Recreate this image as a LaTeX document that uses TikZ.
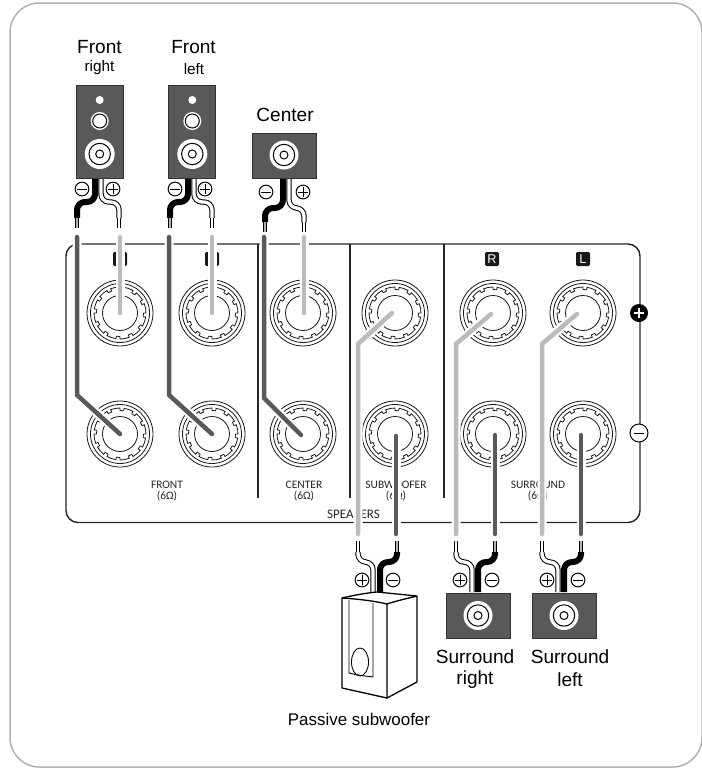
\documentclass[tikz,border=0pt]{standalone}
\usepackage{fontspec}
\setmainfont{Liberation Sans}
\newfontfamily\panelfont{Carlito}
\usetikzlibrary{calc}
\definecolor{spkgray}{HTML}{58595B}
\definecolor{lightwire}{HTML}{B9BBBE}
\definecolor{darkwire}{HTML}{58595B}
\tikzset{
  px/.style={line width=#1*0.75pt},
  label/.style={inner sep=0pt, font=\fontsize{14.3}{16}\selectfont},
  smalllabel/.style={inner sep=0pt, font=\fontsize{11.5}{13}\selectfont},
  paneltext/.style={inner sep=0pt, align=center, text=black!85, font=\panelfont\fontsize{8.6}{8.2}\selectfont},
  badge/.style={fill=black!90, text=white, rounded corners=1pt, minimum size=10.5pt, inner sep=0pt, font=\fontsize{9.5}{10}\selectfont},
  halo/.style={white, px=9, line cap=round, line join=miter},
  wire/.style={px=4.5, line cap=round, line join=miter},
  plussign/.style={circle, draw, px=1, minimum size=10.3pt, inner sep=0pt, fill=white, path picture={
    \draw[px=1] (path picture bounding box.center) ++(-3.8pt,0) -- ++(7.6pt,0);
    \draw[px=1] (path picture bounding box.center) ++(0,-3.8pt) -- ++(0,7.6pt);}},
  minussign/.style={circle, draw, px=1, minimum size=10.3pt, inner sep=0pt, fill=white, path picture={
    \draw[px=1] (path picture bounding box.center) ++(-3.8pt,0) -- ++(7.6pt,0);}},
}
\begin{document}
\begin{tikzpicture}[x=0.75pt, y=-0.75pt]
  \useasboundingbox (0,0) rectangle (701,768);
  % Outer frame
  \draw[black!30, px=1.5, rounded corners=22pt] (10,3) rectangle (702,767);
  % Amplifier panel
  \draw[black!85, px=1.4, rounded corners=9pt] (66,244) rectangle (640,522.5);
  \foreach \x in {258,350,444}
    \draw[black!85, px=1.2] (\x,244) -- (\x,498);
  % Panel labels
  \node[paneltext] (front) at (167,491.5) {FRONT\\(6Ω)};
  \node[paneltext] (center) at (304,491.5) {CENTER\\(6Ω)};
  \node[paneltext] (sub) at (396,491.5) {SUBWOOFER\\(6Ω)};
  \node[paneltext] (surround) at (538,491.5) {SURROUND\\(6Ω)};
  \node[paneltext, font=\panelfont\fontsize{9.8}{10}\selectfont] (speakers) at (353.5,514) {SPEAKERS};
  \node[badge] (badgeA) at (120,259) {R};
  \node[badge] (badgeB) at (212,259) {L};
  \node[badge] (badgeC) at (492,259) {R};
  \node[badge] (badgeD) at (583,259) {L};
  % Terminals
  \foreach \nm/\x/\y in {ta/120/313, tb/212/313, tc/303/313, td/395/313, te/493/313, tf/583/313,
      ua/120/434, ub/212/434, uc/303/434, ud/395/434, ue/493/434, uf/583/434} {
    \coordinate (\nm) at (\x,\y);
    \begin{scope}[shift={(\nm)}, px=0.8, black!90]
      \draw (0,0) circle (33);
      \draw (0,0) circle (29.5);
      \draw (0,0) circle (17.5);
      \foreach \a in {0,30,...,330}
        \draw (\a:23.5) arc[start angle=\a, end angle=\a+9, radius=23.5] -- (\a+9:26)
          arc[start angle=\a+9, end angle=\a+30, radius=26] -- (\a+30:23.5);
    \end{scope}
  }
  % Wires on the panel
  \foreach \w/\ex/\ey/\bx/\by/\cx/\cy/\col in {
      a/120/237/120/237/120/313/lightwire, b/212/237/212/237/212/313/lightwire, c/304/237/304/237/304/313/lightwire,
      d/77/237/77/395/120/434/darkwire, f/169/237/169/395/212/434/darkwire, g/264/237/264/398/301/435/darkwire,
      h/358/534/358/344/392/313/lightwire, i/456/534/456/344/491/314/lightwire, j/542/534/542/344/577/314/lightwire,
      k/396/534/396/436/396/436/darkwire, l/495/534/495/435/495/435/darkwire, m/581/534/581/435/581/435/darkwire} {
    \coordinate (e\w) at (\ex,\ey);
    \coordinate (b\w) at (\bx,\by);
    \coordinate (c\w) at (\cx,\cy);
    \draw[halo] (e\w) -- (b\w) -- (c\w);
    \draw[wire, draw=\col] (e\w) -- (b\w) -- (c\w);
  }
  % Polarity marks on the panel
  \node[circle, fill=black, minimum size=13.5pt, inner sep=0pt, text=white] (panelplus) at (639,313) {};
  \draw[white, px=2.4] ($(panelplus)+(-5,0)$) -- ($(panelplus)+(5,0)$);
  \draw[white, px=2.4] ($(panelplus)+(0,-5)$) -- ($(panelplus)+(0,5)$);
  \node[minussign, minimum size=13.5pt] (panelminus) at (639,433) {};
  % Speaker leads
  \foreach \bx/\wx/\bt/\wt/\ys/\yb/\yt/\ye in {
      95/101/77/119/178/202/218/228, 188/194/170/212/178/202/218/228, 283/289/265/304/178/208/222/232,
      380/373/397/358/592/562/552/541, 478/472/495/456/592/562/552/541, 564/558/581/542/592/562/552/541} {
    % black lead
    \draw[black, px=6, rounded corners=6pt] (\bx,\ys) -- (\bx,\yb) -- (\bt,\yb) -- (\bt,\yt);
    \draw[black, px=3.6] (\bt,\yt) -- (\bt,\ye);
    \draw[black!30, px=2] (\bt,\yt) -- (\bt,\ye);
    % white lead
    \draw[black, px=5.4, rounded corners=6pt] (\wx,\ys) -- (\wx,\yb) -- (\wt,\yb) -- (\wt,\yt);
    \draw[white, px=3.4, rounded corners=6pt] (\wx,\ys) -- (\wx,\yb) -- (\wt,\yb) -- (\wt,\yt);
    \draw[black, px=3.6] (\wt,\yt) -- (\wt,\ye);
    \draw[white, px=2] (\wt,\yt) -- (\wt,\ye);
  }
  % Front speakers
  \foreach \nm/\x in {fr/99.7, fl/192.3} {
    \coordinate (\nm) at (\x,0);
    \filldraw[fill=spkgray, draw=black!80, px=0.8] (\x-23.5,85) rectangle (\x+23.5,178);
    \fill[white] (\x,100) circle (4);
    \fill[white] (\x,121) circle (9);
    \draw[black, px=1] (\x,121) circle (7);
    \fill[white] (\x,154) circle (15);
    \draw[black, px=1] (\x,154) circle (10.7);
    \draw[black, px=1] (\x,154) circle (4);
  }
  % Center and surround speakers
  \foreach \x/\ya/\yb/\yc in {284/133/178/155, 478/593/638/615.5, 564/593/638/615.5} {
    \filldraw[fill=spkgray, draw=black!80, px=0.8] (\x-32,\ya) rectangle (\x+32,\yb);
    \fill[white] (\x,\yc) circle (14.5);
    \draw[black, px=1] (\x,\yc) circle (10.7);
    \draw[black, px=1] (\x,\yc) circle (4);
  }
  % Subwoofer box
  \filldraw[fill=white, draw=black, px=1.3, line join=round] (342,598) .. controls (355,595) and (366,593) .. (377,592)
    -- (417,596) .. controls (405,599) and (396,601) .. (387,604) -- (387,698) -- (342,688) -- cycle;
  \draw[black, px=1.3] (342,598) .. controls (358,599) and (375,601) .. (387,604);
  \draw[black, px=1.3] (417,596) -- (417,682) -- (387,698);
  \draw[black, px=0.9] (349,600) -- (349,673) .. controls (356,675) and (365,676) .. (373,677) -- (373,603);
  \draw[black, px=0.9] (360,662) ellipse (8.5 and 14);
  % Polarity marks on the leads
  \foreach \nm/\x/\y in {ma/82/189, mb/175/189, mc/266/192, md/393/580, me/492/580, mf/578/580}
    \node[minussign] (\nm) at (\x,\y) {};
  \foreach \nm/\x/\y in {pa/113/189, pb/205/189, pc/303/192, pd/362/580, pe/460/580, pf/547/580}
    \node[plussign] (\nm) at (\x,\y) {};
  % Speaker names
  \node[label] (frontr) at (99.5,47) {Front};
  \node[smalllabel] (rightr) at (99.5,68) {right};
  \node[label] (frontl) at (193.5,47) {Front};
  \node[smalllabel] (leftl) at (194,69) {left};
  \node[label] (centername) at (285,115) {Center};
  \node[label] (surroundr) at (475,657) {Surround};
  \node[label] (rightsr) at (475,680) {right};
  \node[label] (surroundl) at (570,657) {Surround};
  \node[label] (leftsl) at (570,680) {left};
  \node[label, font=\fontsize{12.7}{14}\selectfont] (passive) at (359,719) {Passive subwoofer};
\end{tikzpicture}
\end{document}
